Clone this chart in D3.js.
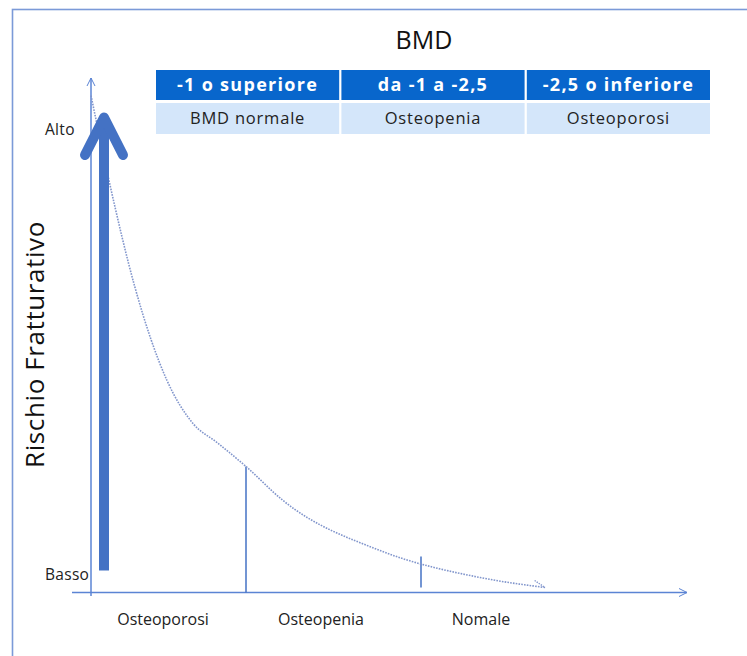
<!DOCTYPE html>
<html>
<head>
<meta charset="utf-8">
<script src="https://cdn.jsdelivr.net/npm/d3@7"></script>
<style>
  body { margin: 0; background: #fff; }
  text { font-family: "Open Sans", sans-serif; }
</style>
</head>
<body>
<div id="chart"></div>
<script>
// BMD table
const bmdRanges = ["-1 o superiore", "da -1 a -2,5", "-2,5 o inferiore"];
const bmdClasses = ["BMD normale", "Osteopenia", "Osteoporosi"];

// risk curve (x: BMD axis units, y: risk 0-100)
const curveX = [0, 3.6, 8.8, 15.2, 20.4, 25.2, 31, 38.4, 57.8, 77.8, 90.8];
const curveY = [99.4, 82.4, 61, 42.4, 33.8, 30, 25.2, 18.4, 8.4, 3, 1];

// boundaries between regions on the x axis
const boundaryX = [31, 66];
const boundaryTop = [25.2, 7.2];

// region labels under the x axis
const regionLabels = ["Osteoporosi", "Osteopenia", "Nomale"];
const regionX = [14.4, 46, 78];

const yLabels = ["Basso", "Alto"];
const yLabelPos = [3.5, 92.5];

const W = 747, H = 656;
const svg = d3.select("#chart").append("svg")
  .attr("width", W)
  .attr("height", H);

const x = d3.scaleLinear().domain([0, 119.2]).range([91, 687]);
const y = d3.scaleLinear().domain([0, 100]).range([592.5, 92.5]);

const axisColor = "#5b84d4";

// outer frame
svg.append("rect")
  .attr("x", 12.5).attr("y", 9.5)
  .attr("width", 800).attr("height", 700)
  .attr("fill", "none")
  .attr("stroke", "#7b9ad8")
  .attr("stroke-width", 1.6);

// title
svg.append("text")
  .attr("x", 424).attr("y", 49)
  .attr("text-anchor", "middle")
  .style("font-size", "25px")
  .style("fill", "#111")
  .text("BMD");

// table
const col = d3.scaleBand()
  .domain(d3.range(bmdRanges.length))
  .range([156, 710])
  .paddingInner(0.012);

const head = svg.append("g");
head.selectAll("rect")
  .data(bmdRanges)
  .join("rect")
  .attr("x", (d, i) => col(i))
  .attr("y", 70)
  .attr("width", col.bandwidth())
  .attr("height", 30)
  .attr("fill", "#0866cc");
head.selectAll("text")
  .data(bmdRanges)
  .join("text")
  .attr("x", (d, i) => col(i) + col.bandwidth() / 2)
  .attr("y", 91)
  .attr("text-anchor", "middle")
  .style("font-size", "18px")
  .style("letter-spacing", "1.3px")
  .style("font-weight", "bold")
  .style("fill", "#fff")
  .text(d => d);

const row = svg.append("g");
row.selectAll("rect")
  .data(bmdClasses)
  .join("rect")
  .attr("x", (d, i) => col(i))
  .attr("y", 103)
  .attr("width", col.bandwidth())
  .attr("height", 31)
  .attr("fill", "#d4e6fa");
row.selectAll("text")
  .data(bmdClasses)
  .join("text")
  .attr("x", (d, i) => col(i) + col.bandwidth() / 2)
  .attr("y", 124)
  .attr("text-anchor", "middle")
  .style("font-size", "16.5px")
  .style("letter-spacing", "0.8px")
  .style("fill", "#222")
  .text(d => d);

// markers
const defs = svg.append("defs");
defs.append("marker")
  .attr("id", "open")
  .attr("viewBox", "0 0 20 20")
  .attr("refX", 18).attr("refY", 10)
  .attr("markerWidth", 10).attr("markerHeight", 20)
  .attr("markerUnits", "userSpaceOnUse")
  .attr("orient", "auto")
  .append("path")
  .attr("d", "M2,2 L18,10 L2,18")
  .attr("fill", "none")
  .attr("stroke", axisColor)
  .attr("stroke-width", 2);

defs.append("marker")
  .attr("id", "dotEnd")
  .attr("viewBox", "0 0 20 20")
  .attr("refX", 18).attr("refY", 10)
  .attr("markerWidth", 14).attr("markerHeight", 14)
  .attr("markerUnits", "userSpaceOnUse")
  .attr("orient", "auto")
  .append("path")
  .attr("d", "M2,2 L18,10")
  .attr("fill", "none")
  .attr("stroke", "#8296cc")
  .attr("stroke-width", 2)
  .attr("stroke-dasharray", "2 1.5");

// axes
svg.append("line")
  .attr("x1", x(0)).attr("x2", x(0))
  .attr("y1", y(-0.7)).attr("y2", y(102.9))
  .attr("stroke", axisColor)
  .attr("stroke-width", 1.5)
  .attr("marker-end", "url(#open)");

svg.append("line")
  .attr("x1", x(-3.8)).attr("x2", x(119.2))
  .attr("y1", y(0)).attr("y2", y(0))
  .attr("stroke", axisColor)
  .attr("stroke-width", 1.5)
  .attr("marker-end", "url(#open)");

// boundary ticks
svg.selectAll(".boundary")
  .data(boundaryX)
  .join("line")
  .attr("class", "boundary")
  .attr("x1", d => x(d)).attr("x2", d => x(d))
  .attr("y1", (d, i) => y(boundaryTop[i]))
  .attr("y2", (d, i) => i === 0 ? y(0) : y(1))
  .attr("stroke", "#4472c4")
  .attr("stroke-width", 1.5);

// risk curve
const pts = curveX.map((d, i) => [d, curveY[i]]);
const line = d3.line()
  .x(d => x(d[0]))
  .y(d => y(d[1]))
  .curve(d3.curveMonotoneX);

svg.append("path")
  .datum(pts)
  .attr("d", line)
  .attr("fill", "none")
  .attr("stroke", "#8296cc")
  .attr("stroke-width", 1.6)
  .attr("stroke-dasharray", "1.6 1.2")
  .attr("marker-end", "url(#dotEnd)");

// thick risk arrow
const ax = x(2.6);
svg.append("line")
  .attr("x1", ax).attr("x2", ax)
  .attr("y1", y(4.4)).attr("y2", y(95))
  .attr("stroke", "#4472c4")
  .attr("stroke-width", 10);
svg.append("path")
  .attr("d", `M${ax - 19},${y(87.5)} L${ax},${y(95)} L${ax + 19},${y(87.5)}`)
  .attr("fill", "none")
  .attr("stroke", "#4472c4")
  .attr("stroke-width", 10)
  .attr("stroke-linecap", "round")
  .attr("stroke-linejoin", "round");

// y labels
svg.selectAll(".ylab")
  .data(yLabels)
  .join("text")
  .attr("class", "ylab")
  .attr("x", 45)
  .attr("y", (d, i) => y(yLabelPos[i]) + 5)
  .style("font-size", "15.5px")
  .style("letter-spacing", "0.3px")
  .style("fill", "#222")
  .text(d => d);

// axis title
svg.append("text")
  .attr("transform", `translate(44,${y(49.6)}) rotate(-90)`)
  .attr("text-anchor", "middle")
  .style("font-size", "26px")
  .style("letter-spacing", "0.6px")
  .style("fill", "#111")
  .text("Rischio Fratturativo");

// region labels
svg.selectAll(".reg")
  .data(regionLabels)
  .join("text")
  .attr("class", "reg")
  .attr("x", (d, i) => x(regionX[i]))
  .attr("y", 625)
  .attr("text-anchor", "middle")
  .style("font-size", "16px")
  .style("fill", "#222")
  .text(d => d);
</script>
</body>
</html>
